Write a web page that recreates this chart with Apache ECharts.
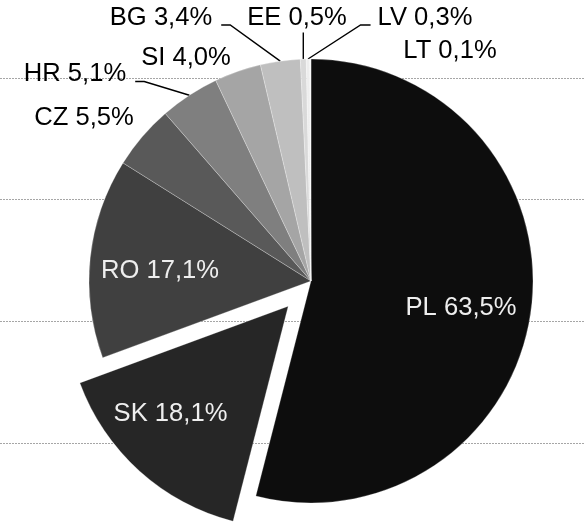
<!DOCTYPE html>
<html><head><meta charset="utf-8">
<script src="https://cdn.jsdelivr.net/npm/echarts@6/dist/echarts.min.js"></script>
<style>html,body{margin:0;padding:0;background:#fff}#c{width:584px;height:523px}</style>
</head><body><div id="c"></div>
<script>
// ---- data ----
const countries = ['PL', 'SK', 'RO', 'CZ', 'HR', 'SI', 'BG', 'EE', 'LV', 'LT'];
const shares = [63.5, 18.1, 17.1, 5.5, 5.1, 4.0, 3.4, 0.5, 0.3, 0.1];
const gridTicks = [0, 1, 2, 3];
const explodedCountry = 'SK';

// ---- styles ----
const sliceColors = ['#0d0d0d', '#262626', '#404040', '#595959', '#7f7f7f', '#a5a5a5', '#bfbfbf', '#d9d9d9', '#ededed', '#f7f7f7'];
const insideLabels = ['PL', 'SK', 'RO'];
const CX = 311, CY = 281, R = 222, OFFSET = 34;
// label centres (manual placement as in the original chart)
const labelSpots = {
  PL: { x: 461, y: 307.5 },
  SK: { x: 172.5, y: 412 },
  RO: { x: 160, y: 270.5 },
  CZ: { x: 84, y: 118 },
  HR: { x: 75, y: 74, line: 'right' },
  SI: { x: 186, y: 57.5 },
  BG: { x: 161, y: 17.5, line: 'right' },
  EE: { x: 297, y: 17.5, line: 'below' },
  LV: { x: 425, y: 17.5, line: 'left' },
  LT: { x: 450, y: 50.5 }
};
const FONT = 'Liberation Sans, Arial, sans-serif';

function fmt(v) { return v.toFixed(1).replace('.', ',') + '%'; }
function labelText(p) { return p.name + ' ' + fmt(p.value); }

// the exploded slice keeps its label in the "select" state, so shift it with padding / line height
const total = shares.reduce((a, b) => a + b, 0);
function explodedShift(idx) {
  let before = 0;
  for (let i = 0; i < idx; i++) before += shares[i];
  const th = (before + shares[idx] / 2) / total * 2 * Math.PI;
  const d = R / 2 + OFFSET;
  const px = CX + d * Math.sin(th), py = CY - d * Math.cos(th);
  const s = labelSpots[countries[idx]];
  return { dx: s.x - px, dy: s.y - py };
}

const pieData = countries.map((c, i) => {
  const inside = insideLabels.includes(c);
  const spot = labelSpots[c];
  const exploded = c === explodedCountry;
  const label = inside
    ? { position: 'inside', color: '#eeeeee' }
    : { position: 'outside', color: '#000000' };
  if (exploded) {
    const sh = explodedShift(i);
    label.padding = [0, Math.max(-sh.dx, 0) * 2, 0, Math.max(sh.dx, 0) * 2];
    label.lineHeight = Math.abs(sh.dy) * 2;
    label.formatter = sh.dy >= 0 ? (p => '\n' + labelText(p)) : (p => labelText(p) + '\n');
  }
  return {
    name: c,
    value: shares[i],
    selected: exploded,
    itemStyle: { color: sliceColors[i] },
    label: label,
    labelLine: { show: !inside && !!(spot && spot.line) }
  };
});

const chart = echarts.init(document.getElementById('c'), null, { renderer: 'canvas' });
chart.setOption({
  animation: false,
  backgroundColor: '#ffffff',
  grid: { left: 0, right: 0, top: 78, bottom: 80 },
  xAxis: { type: 'value', show: false, min: 0, max: 1 },
  yAxis: {
    type: 'value', min: gridTicks[0], max: gridTicks[gridTicks.length - 1], interval: 1,
    axisLabel: { show: false }, axisLine: { show: false }, axisTick: { show: false },
    splitLine: { show: true, lineStyle: { color: '#a6a6a6', width: 1, type: [2, 1] } }
  },
  series: [{
    type: 'pie',
    center: [CX, CY],
    radius: R,
    startAngle: 90,
    clockwise: true,
    avoidLabelOverlap: false,
    selectedMode: 'single',
    selectedOffset: OFFSET,
    emphasis: { disabled: true },
    select: { itemStyle: { borderColor: 'rgba(255,255,255,0.35)', borderWidth: 0.75 } },
    itemStyle: { borderColor: 'rgba(255,255,255,0.35)', borderWidth: 0.75 },
    label: {
      show: true,
      fontFamily: FONT,
      fontSize: 25.6,
      formatter: labelText
    },
    labelLine: { show: true, length: 10, length2: 10, lineStyle: { color: '#000', width: 1.4 } },
    labelLayout: function (p) {
      const name = countries[p.dataIndex];
      if (name === explodedCountry) return {};
      const r = p.labelRect;
      const s = labelSpots[name];
      const out = { x: s.x, y: s.y, align: 'center', verticalAlign: 'middle' };
      if (s.line && p.labelLinePoints) {
        const a = p.labelLinePoints[0];
        const half = r.width / 2;
        let p1, p2;
        if (s.line === 'right') {
          const xe = s.x + half + 9, yl = s.y + 7.5;
          p2 = [xe, yl]; p1 = [xe + 9, yl];
        } else if (s.line === 'left') {
          const xe = s.x - half - 7, yl = s.y + 7.5;
          p2 = [xe, yl]; p1 = [xe - 10, yl];
        } else {
          const yb = s.y + r.height / 2 + 2;
          p2 = [a[0], yb]; p1 = [a[0], yb];
        }
        out.labelLinePoints = [a, p1, p2];
      }
      return out;
    },
    data: pieData
  }]
});
</script>
</body></html>
